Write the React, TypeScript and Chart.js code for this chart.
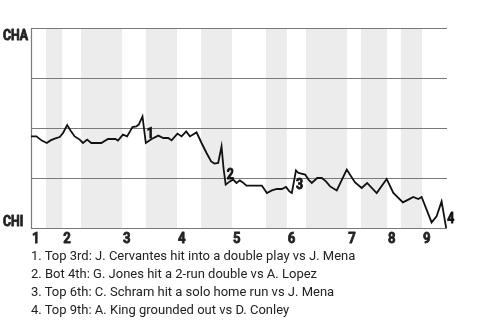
import React, { useEffect, useRef } from 'react';
import { Chart, registerables } from 'chart.js';

Chart.register(...registerables);

// play index (0..100 across the game) and CHA win probability (%)
const playX = [
  0, 1.3, 2.6, 3.8, 4.7, 5.7, 6.9, 7.7, 8.7, 9.5, 10.5, 11.7, 12.5, 13.5, 14.5, 16.9, 18.5, 20.3, 20.9,
  22.1, 23.1, 24.4, 25.3, 25.9, 26.8, 27.6, 29.0, 30.6, 31.8, 33.0, 33.8, 35.2, 36.2, 37.3, 38.2, 39.8,
  41.0, 42.2, 43.3, 44.1, 45.0, 45.8, 46.3, 46.8, 47.8, 48.6, 49.4, 50.2, 50.9, 51.8, 55.5, 56.7, 57.9,
  59.1, 60.3, 61.3, 62.1, 62.7, 63.7, 64.3, 65.9, 66.7, 67.5, 68.8, 69.9, 70.9, 71.9, 73.5, 75.9, 76.5,
  77.9, 79.5, 80.8, 83.1, 85.5, 87.1, 89.4, 90.7, 91.9, 93.1, 93.9, 96.3, 97.5, 98.7, 99.8,
];
const chaWinPct = [
  45.8, 45.8, 43.7, 42.5, 43.8, 44.7, 45.5, 47.5, 51.5, 48.8, 45.8, 44.2, 42.5, 44.2, 42.5, 42.5, 44.5, 44.5, 43.7,
  46.7, 45.8, 50.5, 50.8, 51.7, 55.8, 42.5, 44.5, 46.2, 45.0, 45.0, 43.8, 47.2, 45.8, 48.3, 45.8, 47.8,
  42.5, 37.5, 33.3, 32.2, 32.5, 40.8, 29.5, 21.7, 23.3, 24.2, 22.5, 23.8, 22.8, 21.2, 21.2, 17.5, 18.8,
  19.5, 19.5, 20.5, 18.3, 17.5, 28.8, 27.5, 26.7, 24.2, 22.5, 25.0, 25.0, 23.3, 20.8, 18.8, 29.2, 27.2,
  22.8, 20.0, 22.5, 17.5, 24.5, 17.5, 12.8, 14.2, 15.5, 14.5, 15.5, 2.8, 5.8, 13.3, 0,
];

const inningStarts = [0, 7.5, 21.9, 35.1, 48.3, 61.5, 76.0, 85.6, 94.0];
const inningLabels = ['1', '2', '3', '4', '5', '6', '7', '8', '9'];
const bottomHalfStarts = [3.6, 12.0, 27.6, 40.9, 56.5, 66.1, 79.3, 88.9];
const bottomHalfEnds = [7.5, 21.9, 35.1, 48.3, 61.5, 76.0, 85.6, 94.0];

const gridValues = [0, 25, 50, 75, 100];
const teamTop = 'CHA';
const teamBottom = 'CHI';

const eventPointIndex = [25, 43, 58, 84];
const eventLabels = ['1', '2', '3', '4'];
const eventNotes = [
  '1. Top 3rd: J. Cervantes hit into a double play vs J. Mena',
  '2. Bot 4th: G. Jones hit a 2-run double vs A. Lopez',
  '3. Top 6th: C. Schram hit a solo home run vs J. Mena',
  '4. Top 9th: A. King grounded out vs D. Conley',
];

const BOLD_FONT = "bold 14px Roboto, sans-serif";
const TICK_FONT = "bold 15px Roboto, sans-serif";
const CONDENSE = 0.88;

function condensedText(ctx: CanvasRenderingContext2D, text: string, x: number, y: number) {
  ctx.save();
  ctx.translate(x, y);
  ctx.scale(CONDENSE, 1);
  ctx.lineWidth = 0.8;
  ctx.strokeStyle = ctx.fillStyle as string;
  ctx.lineJoin = 'round';
  ctx.strokeText(text, 0, 0);
  ctx.fillText(text, 0, 0);
  ctx.restore();
}

const wpPlugin = {
  id: 'wpDecor',
  beforeDatasetsDraw(chart: any) {
    const { ctx, chartArea, scales } = chart;
    const xs = scales.x;
    const ys = scales.y;
    ctx.save();
    // bottom half-inning bands
    ctx.fillStyle = '#ececec';
    for (let i = 0; i < bottomHalfStarts.length; i++) {
      const x0 = xs.getPixelForValue(bottomHalfStarts[i]);
      const x1 = xs.getPixelForValue(bottomHalfEnds[i]);
      ctx.fillRect(x0, chartArea.top, x1 - x0, chartArea.bottom - chartArea.top + 1);
    }
    // horizontal grid lines
    ctx.strokeStyle = '#7a7a7a';
    ctx.lineWidth = 1.2;
    for (const v of gridValues) {
      const y = Math.round(ys.getPixelForValue(v)) + 0.5;
      ctx.beginPath();
      ctx.moveTo(chartArea.left, y);
      ctx.lineTo(chartArea.right, y);
      ctx.stroke();
    }
    // left border
    const lx = Math.round(chartArea.left) + 0.5;
    ctx.beginPath();
    ctx.moveTo(lx, ys.getPixelForValue(100));
    ctx.lineTo(lx, ys.getPixelForValue(0) + 1);
    ctx.stroke();
    ctx.restore();
  },
  afterDatasetsDraw(chart: any) {
    const { ctx, chartArea, scales } = chart;
    const xs = scales.x;
    const ys = scales.y;
    ctx.save();
    ctx.fillStyle = '#111111';
    ctx.textAlign = 'left';
    // event markers
    ctx.font = BOLD_FONT;
    eventPointIndex.forEach((idx, i) => {
      const px = xs.getPixelForValue(playX[idx]);
      const py = ys.getPixelForValue(chaWinPct[idx]);
      const prev = chaWinPct[idx - 1];
      const rise = chaWinPct[idx] > prev;
      if (rise) {
        ctx.textBaseline = 'top';
        condensedText(ctx, eventLabels[i], px, py + 8);
      } else {
        ctx.textBaseline = 'bottom';
        condensedText(ctx, eventLabels[i], px + 1, py - 2);
      }
    });
    // team labels
    ctx.fillStyle = '#222222';
    ctx.textBaseline = 'alphabetic';
    condensedText(ctx, teamTop, 3, ys.getPixelForValue(100) + 12);
    condensedText(ctx, teamBottom, 3, ys.getPixelForValue(0) - 2);
    // inning labels
    ctx.font = TICK_FONT;
    inningStarts.forEach((v, i) => {
      const px = xs.getPixelForValue(v);
      condensedText(ctx, inningLabels[i], px + 1, chartArea.bottom + 15);
    });
    ctx.restore();
  },
};

export default function App() {
  const canvasRef = useRef<HTMLCanvasElement | null>(null);

  useEffect(() => {
    document.body.style.margin = '0';
    const canvas = canvasRef.current;
    if (!canvas) return;
    const chart = new Chart(canvas, {
      type: 'line',
      data: {
        datasets: [
          {
            data: playX.map((x, i) => ({ x, y: chaWinPct[i] })),
            borderColor: '#111',
            borderWidth: 1.8,
            pointRadius: 0,
            tension: 0,
            fill: false,
          },
        ],
      },
      options: {
        animation: false,
        responsive: false,
        maintainAspectRatio: false,
        layout: { padding: { left: 31, right: 33, top: 28, bottom: 92 } },
        plugins: { legend: { display: false }, tooltip: { enabled: false }, title: { display: false } },
        scales: {
          x: { type: 'linear', min: 0, max: 100, display: false },
          y: { type: 'linear', min: 0, max: 100, display: false },
        },
      },
      plugins: [wpPlugin],
    });
    return () => chart.destroy();
  }, []);

  return (
    <div style={{ position: 'relative', width: 480, height: 320, background: '#fff', overflow: 'hidden' }}>
      <canvas ref={canvasRef} width={480} height={320} style={{ position: 'absolute', left: 0, top: 0 }} />
      <div
        style={{
          position: 'absolute',
          left: 31,
          top: 247,
          fontFamily: 'Roboto, sans-serif',
          fontSize: 13,
          lineHeight: '18px',
          color: '#222',
          whiteSpace: 'nowrap',
        }}
      >
        {eventNotes.map((n) => (
          <div key={n}>{n}</div>
        ))}
      </div>
    </div>
  );
}
